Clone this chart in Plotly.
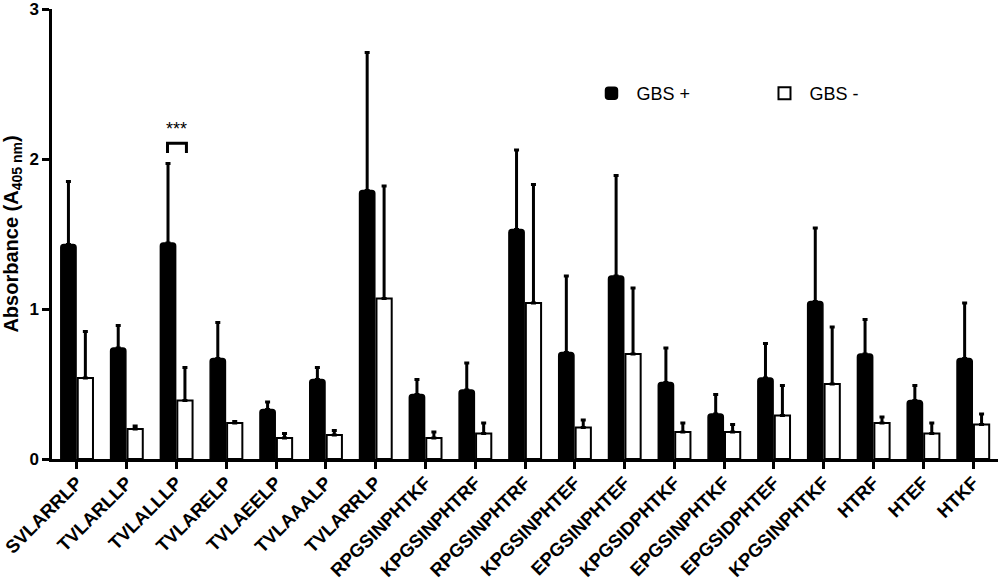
import plotly.graph_objects as go

categories = ["SVLARRLP", "TVLARLLP", "TVLALLLP", "TVLARELP", "TVLAEELP", "TVLAAALP",
              "TVLARRLP", "RPGSINPHTKF", "KPGSINPHTRF", "RPGSINPHTRF", "KPGSINPHTEF",
              "EPGSINPHTEF", "KPGSIDPHTKF", "EPGSINPHTKF", "EPGSIDPHTEF", "KPGSINPHTKF",
              "HTRF", "HTEF", "HTKF"]

gbs_pos_mean = [1.43, 0.74, 1.44, 0.67, 0.33, 0.53, 1.79, 0.43, 0.46, 1.53, 0.71,
                1.22, 0.51, 0.30, 0.54, 1.05, 0.70, 0.39, 0.67]
gbs_pos_top = [1.85, 0.89, 1.97, 0.91, 0.38, 0.61, 2.71, 0.53, 0.64, 2.06, 1.22,
               1.89, 0.74, 0.43, 0.77, 1.54, 0.93, 0.49, 1.04]

gbs_neg_mean = [0.54, 0.20, 0.39, 0.24, 0.14, 0.16, 1.07, 0.14, 0.17, 1.04, 0.21,
                0.70, 0.18, 0.18, 0.29, 0.50, 0.24, 0.17, 0.23]
gbs_neg_top = [0.85, 0.22, 0.61, 0.25, 0.17, 0.19, 1.82, 0.18, 0.24, 1.83, 0.26,
               1.14, 0.24, 0.23, 0.49, 0.88, 0.28, 0.24, 0.30]

y_ticks = [0, 1, 2, 3]

pos_err = [t - m for t, m in zip(gbs_pos_top, gbs_pos_mean)]
neg_err = [t - m for t, m in zip(gbs_neg_top, gbs_neg_mean)]

FONT = "Arial, Liberation Sans, sans-serif"

fig = go.Figure()
fig.add_trace(go.Bar(
    name="GBS +", x=categories, y=gbs_pos_mean,
    marker=dict(color="black", line=dict(color="black", width=1.5), cornerradius=3),
    error_y=dict(type="data", array=pos_err, arrayminus=[0] * len(pos_err),
                 symmetric=False, color="black", thickness=3, width=2.5),
))
fig.add_trace(go.Bar(
    name="GBS -", x=categories, y=gbs_neg_mean,
    marker=dict(color="white", line=dict(color="black", width=2)),
    error_y=dict(type="data", array=neg_err, arrayminus=[0] * len(neg_err),
                 symmetric=False, color="black", thickness=3, width=2.5),
))

# significance bracket on TVLALLLP
fig.add_shape(type="path", xref="x", yref="y",
              path="M 1.82 2.04 L 1.82 2.105 L 2.2 2.105 L 2.2 2.04",
              line=dict(color="black", width=3))
fig.add_annotation(x=2.0, y=2.2, xref="x", yref="y", text="***", showarrow=False,
                   font=dict(family=FONT, size=18, color="black"))

fig.update_layout(
    width=1000, height=583,
    margin=dict(l=52, r=2, t=9, b=124, autoexpand=False),
    plot_bgcolor="white", paper_bgcolor="white",
    barmode="group", bargap=0.32, bargroupgap=0.1,
    font=dict(family=FONT, color="black"),
    showlegend=True,
    legend=dict(orientation="h", x=0.565, y=0.812, xanchor="left", yanchor="middle",
                font=dict(family=FONT, size=18, color="black"),
                entrywidth=118, itemwidth=40, bgcolor="rgba(0,0,0,0)"),
)
fig.update_xaxes(
    type="category", range=[-0.5, 18.5], automargin=False,
    showline=True, linecolor="black", linewidth=2.5,
    ticks="outside", ticklen=7, tickwidth=2.5, tickcolor="black",
    tickangle=-45, tickfont=dict(family=FONT, size=18.5, color="black", weight="bold"),
    ticklabelstandoff=-4,
    showgrid=False, zeroline=False,
)
fig.update_yaxes(
    range=[0, 3], tickvals=y_ticks, ticklabeloverflow="allow", automargin=False,
    showline=True, linecolor="black", linewidth=2.5,
    ticks="outside", ticklen=7, tickwidth=2.5, tickcolor="black",
    tickfont=dict(family=FONT, size=17, color="black", weight="bold"),
    showgrid=False, zeroline=False,
    title=dict(text="<b>Absorbance (A<sub>405 nm</sub>)</b>",
               font=dict(family=FONT, size=20, color="black"), standoff=6),
)

fig.write_html("out.html", config={"displayModeBar": False},
               post_script="document.body.style.margin='0px';")
